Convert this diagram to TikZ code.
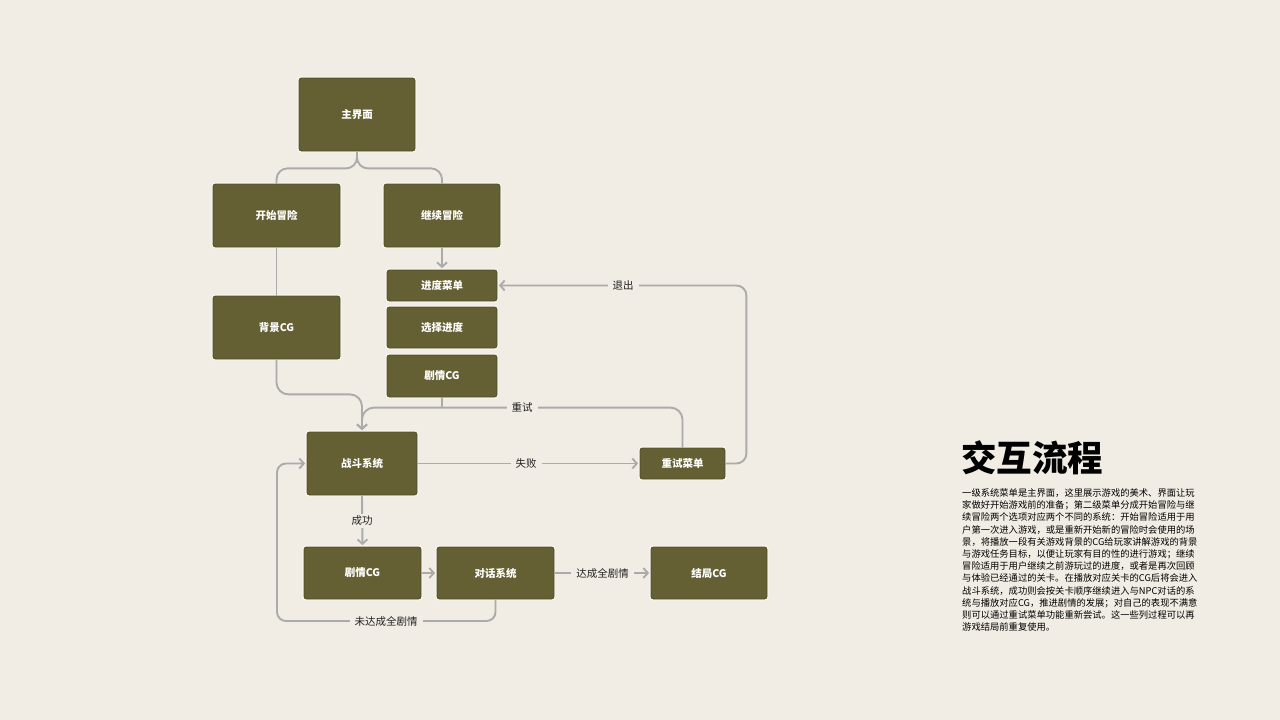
\documentclass[tikz,border=0pt]{standalone}
\usepackage{fontspec}
\setmainfont{Noto Sans CJK SC}
\usetikzlibrary{arrows.meta}
\definecolor{bg}{HTML}{F1EDE4}
\definecolor{boxfill}{HTML}{656033}
\definecolor{boxedge}{HTML}{4E4A22}
\definecolor{connc}{HTML}{ABABAB}
\definecolor{lbltext}{HTML}{222222}
\tikzset{
  box/.style={rectangle, rounded corners=2.5pt, fill=boxfill, draw=boxedge,
    line width=0.8pt, text=white, inner sep=0pt,
    font=\bfseries\fontsize{10.5}{12}\selectfont,
    preaction={draw=white!85!bg, line width=2.6pt}},
  conn/.style={draw=connc, line width=1.9pt, rounded corners=10pt},
  arr/.style={-{Straight Barb[length=4.5pt,width=10pt]}, shorten >=1.5pt},
  lbl/.style={fill=bg, inner xsep=5pt, inner ysep=2pt, text=lbltext,
    font=\fontsize{10.5}{12}\selectfont},
}
\begin{document}
\begin{tikzpicture}[x=1pt,y=-1pt]
\fill[bg] (0,0) rectangle (1280,720);
\useasboundingbox (0,0) rectangle (1280,720);

% boxes
\node[box, minimum width=116pt, minimum height=73pt] (main) at (357,114.5) {主界面};
\node[box, minimum width=127pt, minimum height=63pt] (start) at (276.5,215.5) {开始冒险};
\node[box, minimum width=116pt, minimum height=63pt] (cont) at (442,215.5) {继续冒险};
\node[box, minimum width=127pt, minimum height=63pt] (bgcg) at (276.5,327.5) {背景CG};
\node[box, minimum width=110pt, minimum height=31pt] (prog) at (442,285.5) {进度菜单};
\node[box, minimum width=110pt, minimum height=41pt] (sel) at (442,327.5) {选择进度};
\node[box, minimum width=110pt, minimum height=42pt] (cg1) at (442,376) {剧情CG};
\node[box, minimum width=110pt, minimum height=63pt] (battle) at (362,463.5) {战斗系统};
\node[box, minimum width=85pt, minimum height=31pt] (retry) at (682.5,463.5) {重试菜单};
\node[box, minimum width=117pt, minimum height=52pt] (cg2) at (362.5,573) {剧情CG};
\node[box, minimum width=117pt, minimum height=52pt] (dlg) at (495.5,573) {对话系统};
\node[box, minimum width=116pt, minimum height=52pt] (endcg) at (709,573) {结局CG};

\coordinate (loopc) at (277,621);

% connectors
\draw[conn, rounded corners=11pt] (main.south) -- ++(0,17) -| (start.north);
\draw[conn, rounded corners=11pt] (main.south) -- ++(0,17) -| (cont.north);
\draw[conn] (start.south) -- (bgcg.north);
\draw[conn, arr] (cont.south) -- (prog.north);
\draw[conn, arr, rounded corners=12pt] (bgcg.south) -- ++(0,35) -| (battle.north);
\draw[conn, arr, rounded corners=12pt] (retry.north) -- ++(0,-40) -| (battle.north);
\draw[conn] (cg1.south) -- ++(0,11);
\draw[conn, arr] (battle.east) -- (retry.west);
\draw[conn, arr] (retry.east) -- ++(21,0) |- (prog.east);
\draw[conn, arr] (battle.south) -- (cg2.north);
\draw[conn, arr] (cg2.east) -- (dlg.west);
\draw[conn, arr] (dlg.east) -- (endcg.west);
\draw[conn, arr, rounded corners=9pt] (dlg.south) |- (loopc) |- (battle.west);

% labels
\node[lbl] (lretry) at (522,408) {重试};
\node[lbl] (lfail) at (526,463.5) {失败};
\node[lbl] (lexit) at (623,285.5) {退出};
\node[lbl] (lsucc) at (362,521) {成功};
\node[lbl] (lall) at (602.5,573) {达成全剧情};
\node[lbl] (lnot) at (386,621) {未达成全剧情};

% title and text
\node[anchor=west, inner sep=0pt, font=\bfseries\fontsize{35.5}{40}\selectfont, text=black] (title) at (961,458) {交互流程};
\node[anchor=north west, inner sep=0pt, align=left, text=black,
  font=\fontsize{9.3}{12.2}\selectfont] (para) at (962,488.5) {%
一级系统菜单是主界面，这里展示游戏的美术、界面让玩\\
家做好开始游戏前的准备；第二级菜单分成开始冒险与继\\
续冒险两个选项对应两个不同的系统：开始冒险适用于用\\
户第一次进入游戏，或是重新开始新的冒险时会使用的场\\
景，将播放一段有关游戏背景的CG给玩家讲解游戏的背景\\
与游戏任务目标，以便让玩家有目的性的进行游戏；继续\\
冒险适用于用户继续之前游玩过的进度，或者是再次回顾\\
与体验已经通过的关卡。在播放对应关卡的CG后将会进入\\
战斗系统，成功则会按关卡顺序继续进入与NPC对话的系\\
统与播放对应CG，推进剧情的发展；对自己的表现不满意\\
则可以通过重试菜单功能重新尝试。这一些列过程可以再\\
游戏结局前重复使用。};
\end{tikzpicture}
\end{document}
